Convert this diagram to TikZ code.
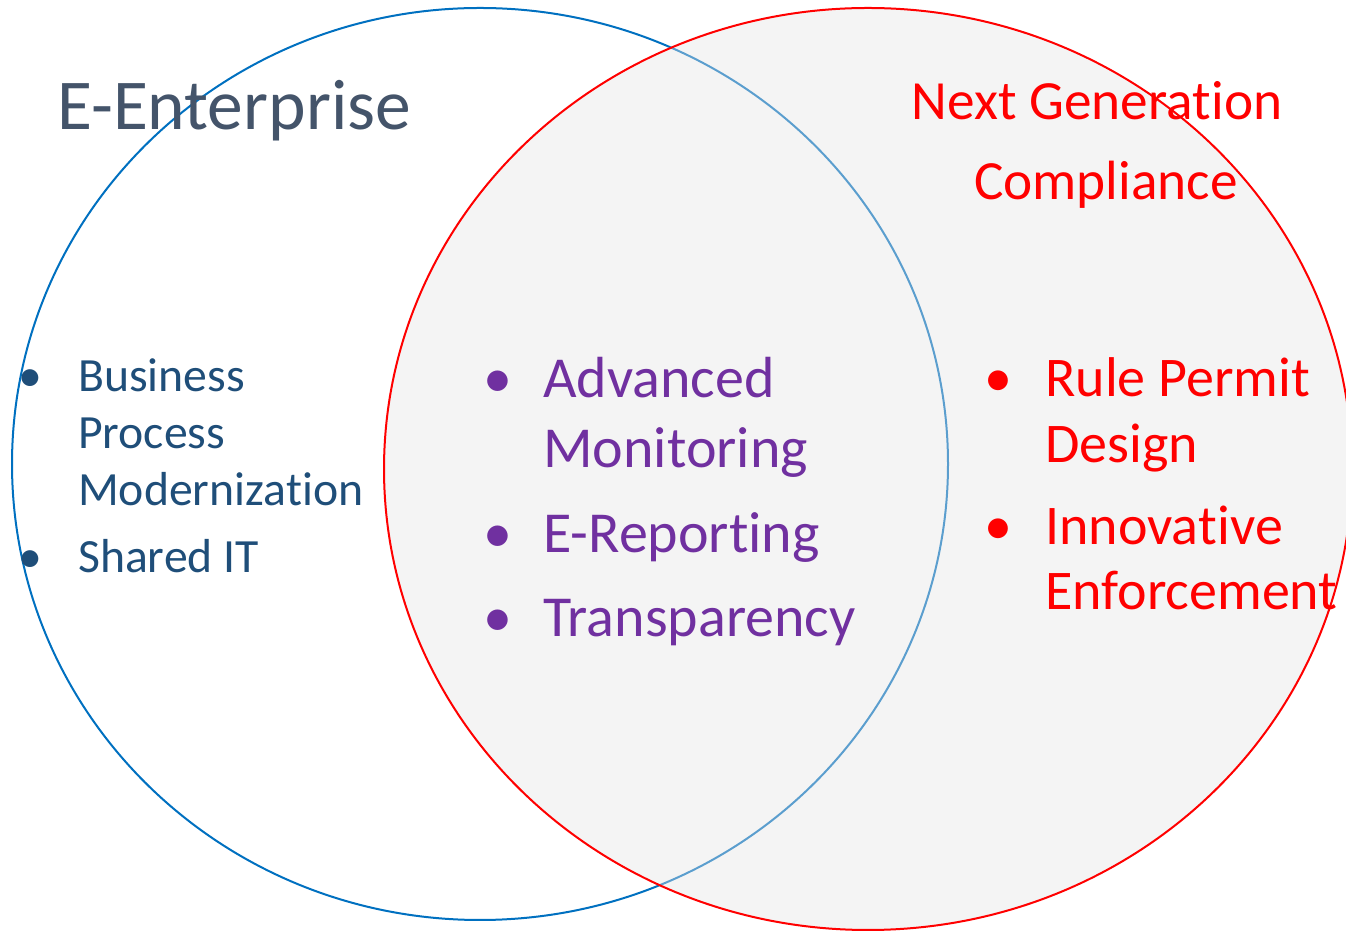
\documentclass[tikz,border=0pt]{standalone}
\usepackage{fontspec}
\setmainfont{Carlito}[RawFeature={-liga;-clig;-dlig;-calt}]
\definecolor{eblue}{HTML}{0070C0}
\definecolor{ered}{HTML}{FF0000}
\definecolor{efill}{HTML}{E4E4E4}
\definecolor{etitle}{HTML}{44546A}
\definecolor{eleft}{HTML}{1F4E79}
\definecolor{epurple}{HTML}{7030A0}
\tikzset{
  txt/.style={anchor=base west, inner sep=0pt},
  bul/.style={anchor=base, inner sep=0pt},
  lefttxt/.style={text=eleft, font=\fontsize{47.7}{56}\selectfont},
  midtxt/.style={text=epurple, font=\fontsize{58}{68}\selectfont},
  righttxt/.style={text=ered, font=\fontsize{56}{67}\selectfont},
}
\begin{document}
\begin{tikzpicture}[x=1pt,y=1pt]
\useasboundingbox (0,0) rectangle (1346,931);
% circles
\draw[eblue, line width=2pt] (480,467) ellipse [x radius=468, y radius=456];
\fill[efill, fill opacity=0.4] (868,462) ellipse [x radius=484, y radius=461];
\draw[ered, line width=2pt] (868,462) ellipse [x radius=484, y radius=461];
% titles
\node[txt, text=etitle, font=\fontsize{71.5}{84}\selectfont] (ee) at (57,801) {E-Enterprise};
\node[anchor=base, inner sep=0pt, text=ered, font=\fontsize{55.3}{66}\selectfont] (ng1) at (1097,811) {Next Genera\kern0pt tion};
\node[anchor=base, inner sep=0pt, text=ered, font=\fontsize{55.3}{66}\selectfont] (ng2) at (1106,731) {Compliance};
% left list
\node[bul, lefttxt] (lb1) at (30,539) {•};
\node[txt, lefttxt] (l1) at (78,539) {Business};
\node[txt, lefttxt] (l2) at (78,482) {Process};
\node[txt, lefttxt] (l3) at (78,425) {Moderniza\kern0pt tion};
\node[bul, lefttxt] (lb2) at (30,358) {•};
\node[txt, lefttxt] (l4) at (78,358) {Shared IT};
% middle list
\node[bul, midtxt] (mb1) at (498,533) {•};
\node[txt, midtxt] (m1) at (543,533) {Advanced};
\node[txt, midtxt] (m2) at (543,463) {Monitoring};
\node[bul, midtxt] (mb2) at (498,378) {•};
\node[txt, midtxt] (m3) at (543,378) {E-Repor\kern0pt ting};
\node[bul, midtxt] (mb3) at (498,294) {•};
\node[txt, midtxt] (m4) at (543,294) {Transparency};
% right list
\node[bul, righttxt] (rb1) at (998,534) {•};
\node[txt, righttxt] (r1) at (1045,534) {Rule Permit};
\node[txt, righttxt] (r2) at (1045,468) {Design};
\node[bul, righttxt] (rb2) at (998,386) {•};
\node[txt, righttxt] (r3) at (1045,386) {Innova\kern0pt tive};
\node[txt, righttxt] (r4) at (1045,321) {Enforcement};
\end{tikzpicture}
\end{document}
